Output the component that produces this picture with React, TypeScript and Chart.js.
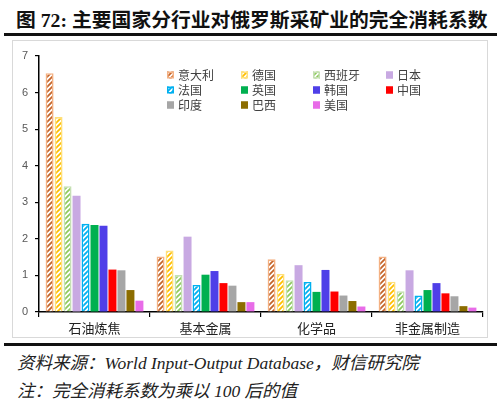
import React, { useEffect, useRef } from "react";
import { Chart, registerables } from "chart.js";

Chart.register(...registerables);

const categories = ["石油炼焦", "基本金属", "化学品", "非金属制造"];
const countries = ["意大利", "德国", "西班牙", "日本", "法国", "英国", "韩国", "中国", "印度", "巴西", "美国"];

const italy = [6.53, 1.52, 1.44, 1.52];
const germany = [5.33, 1.68, 1.04, 0.83];
const spain = [3.44, 1.01, 0.87, 0.57];
const japan = [3.18, 2.06, 1.28, 1.14];
const france = [2.41, 0.74, 0.82, 0.45];
const uk = [2.38, 1.02, 0.55, 0.6];
const korea = [2.36, 1.12, 1.15, 0.79];
const china = [1.16, 0.79, 0.56, 0.51];
const india = [1.14, 0.72, 0.45, 0.43];
const brazil = [0.6, 0.27, 0.3, 0.16];
const usa = [0.31, 0.27, 0.15, 0.12];

const yTicks = [0, 1, 2, 3, 4, 5, 6, 7];

const seriesValues = [italy, germany, spain, japan, france, uk, korea, china, india, brazil, usa];

const seriesStyles: { border: string; stripe: string | null; fill: string }[] = [
  { border: "#F4B183", stripe: "#C5652A", fill: "#F4B183" },
  { border: "#FFE07A", stripe: "#FFBF00", fill: "#FFE07A" },
  { border: "#C5E0B4", stripe: "#8FCB5E", fill: "#C5E0B4" },
  { border: "#C8A9E2", stripe: null, fill: "#C8A9E2" },
  { border: "#00B0F0", stripe: "#00B0F0", fill: "#00B0F0" },
  { border: "#00B050", stripe: null, fill: "#00B050" },
  { border: "#4F3FE8", stripe: null, fill: "#4F3FE8" },
  { border: "#FF0000", stripe: null, fill: "#FF0000" },
  { border: "#A6A6A6", stripe: null, fill: "#A6A6A6" },
  { border: "#8C6D00", stripe: null, fill: "#8C6D00" },
  { border: "#E86CE8", stripe: null, fill: "#E86CE8" },
];

function makeStripe(color: string): CanvasPattern | string {
  const size = 5;
  const c = document.createElement("canvas");
  c.width = size;
  c.height = size;
  const ctx = c.getContext("2d");
  if (!ctx) return color;
  ctx.fillStyle = "#ffffff";
  ctx.fillRect(0, 0, size, size);
  ctx.strokeStyle = color;
  ctx.lineWidth = 1.8;
  ctx.beginPath();
  ctx.moveTo(-1, size + 1);
  ctx.lineTo(size + 1, -1);
  ctx.moveTo(-1, 1);
  ctx.lineTo(1, -1);
  ctx.moveTo(size - 1, size + 1);
  ctx.lineTo(size + 1, size - 1);
  ctx.stroke();
  const p = ctx.createPattern(c, "repeat");
  return p || color;
}

const legendPlugin = {
  id: "gridLegend",
  afterDraw(chart: any) {
    const ctx = chart.ctx;
    const colX = [154, 228, 300, 373];
    const rowY = [34, 49, 64];
    ctx.save();
    ctx.font = '12px "Noto Sans CJK SC"';
    ctx.textBaseline = "middle";
    ctx.textAlign = "left";
    chart.data.datasets.forEach((ds: any, i: number) => {
      const col = i % 4;
      const row = Math.floor(i / 4);
      const x = colX[col];
      const y = rowY[row];
      const s = 7;
      ctx.fillStyle = ds.backgroundColor;
      ctx.fillRect(x, y - s / 2, s, s);
      ctx.strokeStyle = ds.borderColor;
      ctx.lineWidth = 1.5;
      ctx.strokeRect(x + 0.75, y - s / 2 + 0.75, s - 1.5, s - 1.5);
      ctx.fillStyle = "#404040";
      ctx.fillText(ds.label, x + 11, y + 0.5);
    });
    ctx.restore();
  },
};

function ChartBox() {
  const ref = useRef<HTMLCanvasElement | null>(null);
  useEffect(() => {
    if (!ref.current) return;
    const datasets = countries.map((name, i) => {
      const st = seriesStyles[i];
      return {
        label: name,
        data: seriesValues[i],
        backgroundColor: st.stripe ? makeStripe(st.stripe) : st.fill,
        borderColor: st.border,
        borderWidth: st.stripe ? 1.6 : 0,
        categoryPercentage: 0.89,
        barPercentage: 0.89,
      };
    });
    const chart = new Chart(ref.current, {
      type: "bar",
      data: { labels: categories, datasets: datasets as any },
      plugins: [legendPlugin],
      options: {
        animation: false,
        responsive: false,
        maintainAspectRatio: false,
        devicePixelRatio: 1,
        layout: { padding: { top: 15, right: 4, left: 0, bottom: 0 } },
        plugins: { legend: { display: false }, tooltip: { enabled: false }, title: { display: false } },
        scales: {
          x: {
            afterFit: (s: any) => {
              s.height = 25;
            },
            grid: {
              display: true,
              offset: true,
              drawOnChartArea: false,
              drawTicks: true,
              tickLength: 5,
              color: "#000000",
              lineWidth: 1.2,
            },
            border: { display: true, color: "#000000", width: 1.5 },
            ticks: {
              color: "#222222",
              font: { family: '"Noto Sans CJK SC"', size: 13 },
              padding: 3,
            },
          },
          y: {
            min: 0,
            max: 7,
            afterFit: (s: any) => {
              s.width = 26;
            },
            afterBuildTicks: (s: any) => {
              s.ticks = yTicks.map((v) => ({ value: v }));
            },
            grid: {
              display: true,
              drawOnChartArea: false,
              drawTicks: true,
              tickLength: 4,
              color: "#000000",
              lineWidth: 1.2,
            },
            border: { display: true, color: "#000000", width: 1.5 },
            ticks: {
              color: "#595959",
              font: { family: '"Liberation Sans"', size: 11 },
              padding: 7,
            },
          },
        },
      },
    });
    return () => chart.destroy();
  }, []);
  return <canvas ref={ref} width={474} height={296} style={{ display: "block", width: 474, height: 296 }} />;
}

export default function App() {
  const serif = '"Liberation Serif", "DejaVu Serif", "Noto Sans CJK SC"';
  const cjk: React.CSSProperties = { fontFamily: '"Noto Sans CJK SC"', fontSize: 17.5 };
  const lat: React.CSSProperties = { fontFamily: '"Liberation Serif"', fontSize: 17.5 };
  const noteStyle: React.CSSProperties = {
    position: "absolute",
    left: 17,
    fontStyle: "italic",
    lineHeight: "22px",
    color: "#222222",
    whiteSpace: "nowrap",
  };
  return (
    <div style={{ position: "fixed", left: 0, top: 0, width: 500, height: 401, background: "#ffffff", overflow: "hidden" }}>
      <div
        style={{
          position: "absolute",
          left: 16,
          top: 6,
          fontFamily: serif,
          fontWeight: 700,
          fontSize: 19.8,
          lineHeight: "28px",
          color: "#111111",
          whiteSpace: "nowrap",
        }}
      >
        图 72: 主要国家分行业对俄罗斯采矿业的完全消耗系数
      </div>
      <div style={{ position: "absolute", left: 4, top: 33, width: 493, height: 2.5, background: "#111111" }} />
      <div
        style={{
          position: "absolute",
          left: 12,
          top: 40,
          width: 476,
          height: 298,
          boxSizing: "border-box",
          border: "1px solid #D9D9D9",
        }}
      >
        <ChartBox />
      </div>
      <div style={{ position: "absolute", left: 4, top: 343, width: 493, height: 2.5, background: "#111111" }} />
      <div style={{ ...noteStyle, top: 351 }}>
        <span style={cjk}>资料来源：</span>
        <span style={lat}>World Input-Output Database</span>
        <span style={cjk}>，财信研究院</span>
      </div>
      <div style={{ ...noteStyle, top: 379 }}>
        <span style={cjk}>注：完全消耗系数为乘以</span>
        <span style={lat}> 100 </span>
        <span style={cjk}>后的值</span>
      </div>
    </div>
  );
}
